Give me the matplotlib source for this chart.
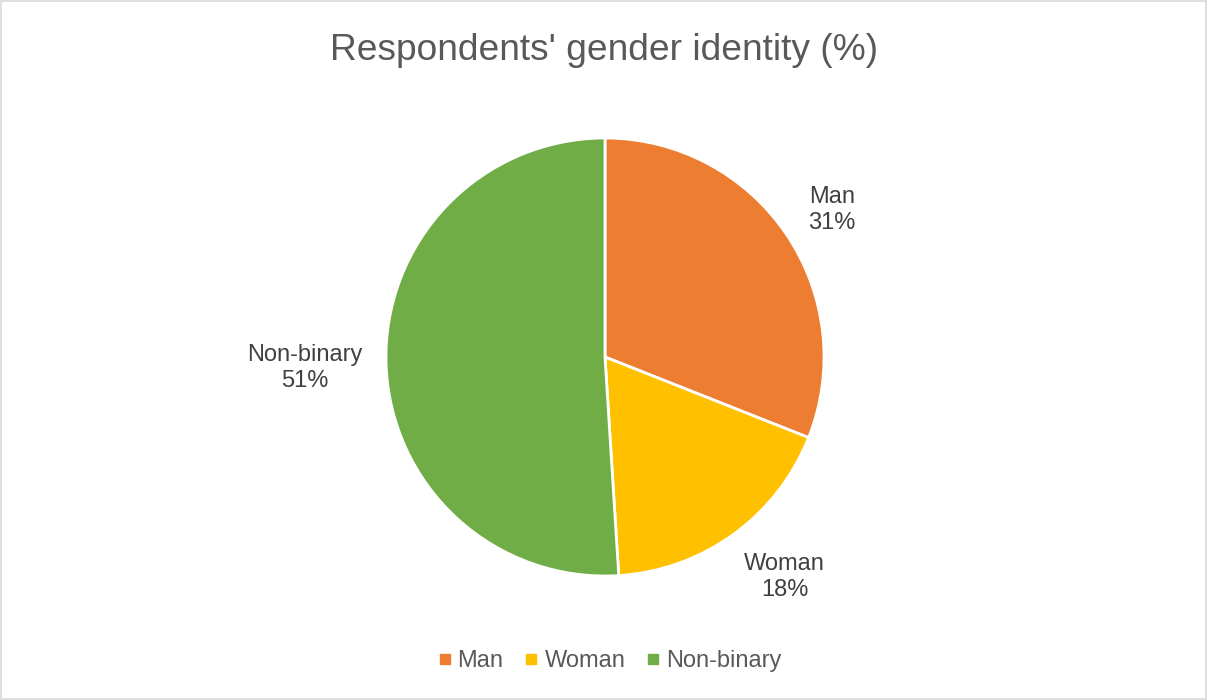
import numpy as np
import matplotlib.pyplot as plt
from matplotlib.patches import Rectangle
from matplotlib.lines import Line2D

plt.rcParams['font.family'] = ['Liberation Sans', 'DejaVu Sans']

# Respondents' gender identity
categories = ['Man', 'Woman', 'Non-binary']
shares = [31, 18, 51]
colors = ['#ED7D31', '#FFC000', '#70AD47']

# label placement: distance from centre (in radii) and a small turn off the wedge middle
label_dist = [1.235, 1.297, 1.37]
label_turn = [-1.3, 3.2, 0.3]

text_col = '#595959'

fig = plt.figure(figsize=(12.07, 7.0), dpi=100)
fig.patches.append(Rectangle((0.0008, 0.0014), 0.9984, 0.997, transform=fig.transFigure,
                             fill=False, edgecolor='#D9D9D9', linewidth=1.2))

cx, cy, r = 605, 357, 219
ax = fig.add_axes([(cx - r) / 1207, (700 - cy - r) / 700, 2 * r / 1207, 2 * r / 700])
wedges, _ = ax.pie(shares, colors=colors, startangle=90, counterclock=False,
                   radius=1.0, wedgeprops=dict(edgecolor='white', linewidth=2))
ax.set_xlim(-1, 1)
ax.set_ylim(-1, 1)
ax.set_aspect('equal')
ax.axis('off')

for w, name, val, d, t in zip(wedges, categories, shares, label_dist, label_turn):
    ang = np.deg2rad((w.theta1 + w.theta2) / 2 + t)
    ax.text(d * np.cos(ang), d * np.sin(ang), f'{name}\n{val}%', ha='center', va='center',
            fontsize=17, color='#404040', linespacing=1.27, clip_on=False)

fig.text(0.5, 1 - 50 / 700, "Respondents' gender identity (%)", ha='center', va='center',
         fontsize=26.7, color=text_col)

handles = [Line2D([], [], marker='s', linestyle='none', markersize=7, color=c) for c in colors]
fig.legend(handles, categories, loc='center', bbox_to_anchor=(0.505, 1 - 661 / 700), ncol=3,
           frameon=False, fontsize=17, labelcolor=text_col, handletextpad=0.25,
           columnspacing=0.88, handlelength=0.6)

fig.savefig('out.png', dpi=100)
